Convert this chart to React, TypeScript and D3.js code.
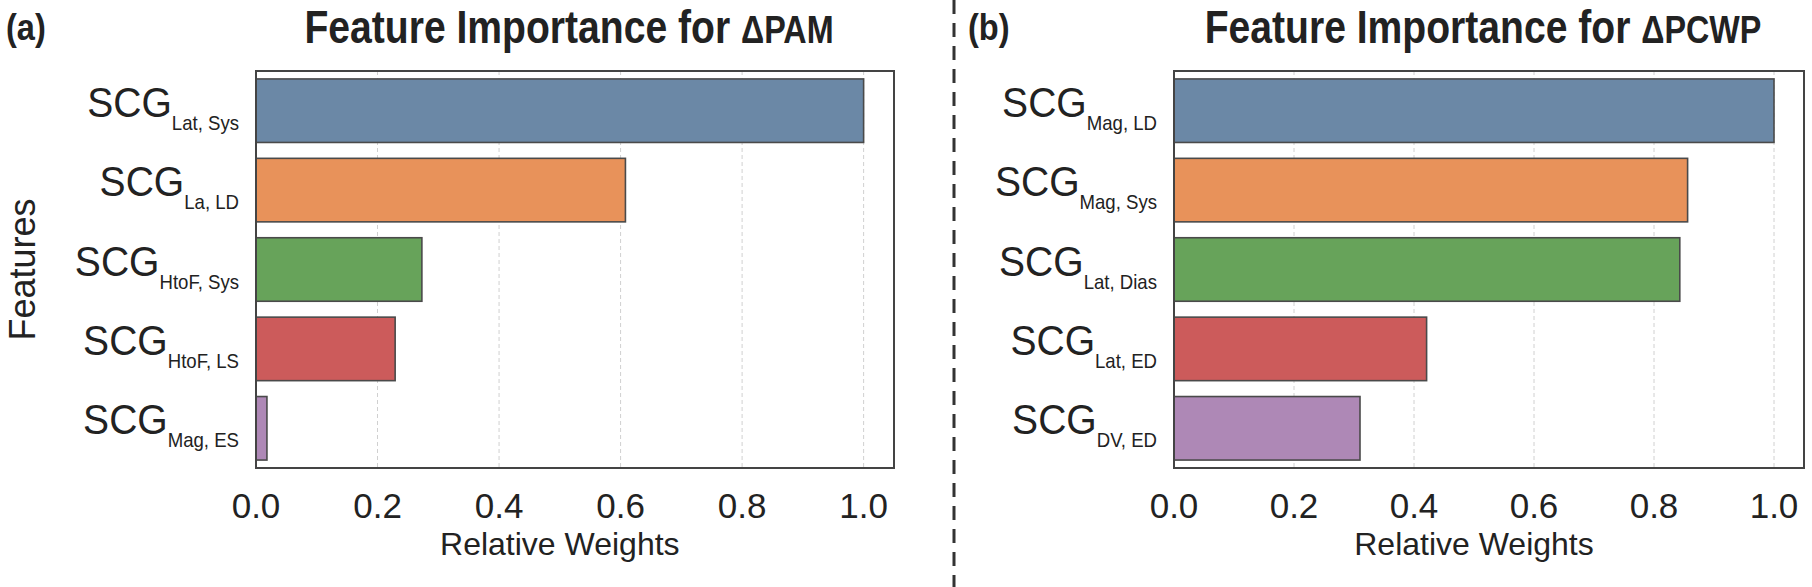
import React from 'react';
import * as d3 from 'd3';

// panel (a): ΔPAM
const pamSubs = ['Lat, Sys', 'La, LD', 'HtoF, Sys', 'HtoF, LS', 'Mag, ES'];
const pamWeights = [1.0, 0.608, 0.273, 0.229, 0.018];

// panel (b): ΔPCWP
const pcwpSubs = ['Mag, LD', 'Mag, Sys', 'Lat, Dias', 'Lat, ED', 'DV, ED'];
const pcwpWeights = [1.0, 0.856, 0.843, 0.421, 0.31];

const xTicks = [0.0, 0.2, 0.4, 0.6, 0.8, 1.0];
const barColors = ['#6b88a6', '#e8925a', '#67a35a', '#cc5b5b', '#ae88b6'];

const W = 1812;
const H = 587;
const FONT = '"Liberation Sans", Arial, Helvetica, sans-serif';

type PanelProps = {
  left: number;
  right: number;
  subs: string[];
  weights: number[];
  tag: string;
  tagX: number;
  title: string;
  showYTitle: boolean;
};

const Panel = ({ left, right, subs, weights, tag, tagX, title, showYTitle }: PanelProps) => {
  const top = 71;
  const bottom = 468;

  const x = d3.scaleLinear().domain([0, 1.05]).range([left, right]);
  const y = d3.scaleBand<number>()
    .domain(d3.range(subs.length))
    .range([top, bottom])
    .paddingInner(0.2)
    .paddingOuter(0.1);

  const midX = (left + right) / 2 - 6;

  return (
    <g>
      <text transform={`translate(${tagX},40) scale(0.88,1)`} fontFamily={FONT} fontWeight="bold"
        fontSize={37} fill="#222">{tag}</text>
      <text transform={`translate(${midX},43) scale(0.85,1)`} textAnchor="middle" fontFamily={FONT}
        fontWeight="bold" fontSize={46} fill="#222">
        Feature Importance for <tspan fontSize={38}>Δ{title}</tspan>
      </text>

      {/* grid */}
      {xTicks.map(t => (
        <line key={t} x1={x(t)} x2={x(t)} y1={top} y2={bottom}
          stroke="#d0d0d0" strokeWidth={1} strokeDasharray="4,3" />
      ))}

      {/* bars */}
      {weights.map((v, i) => (
        <rect key={i} x={x(0)} y={y(i)} width={x(v) - x(0)} height={y.bandwidth()}
          fill={barColors[i]} stroke="#4a4a4a" strokeWidth={1.6} />
      ))}

      <rect x={left} y={top} width={right - left} height={bottom - top}
        fill="none" stroke="#444" strokeWidth={2} />

      {/* y labels */}
      {subs.map((s, i) => {
        const cy = (y(i) as number) + y.bandwidth() / 2;
        return (
          <text key={s} transform={`translate(${left - 17},${cy + 6}) scale(0.93,1)`} textAnchor="end"
            fontFamily={FONT} fill="#222">
            <tspan fontSize={42}>SCG</tspan>
            <tspan fontSize={20} dy={13}>{s}</tspan>
          </text>
        );
      })}

      {/* x ticks */}
      {xTicks.map(t => (
        <text key={t} x={x(t)} y={518} textAnchor="middle" fontFamily={FONT} fontSize={35} fill="#222">
          {d3.format('.1f')(t)}
        </text>
      ))}
      <text x={x(0.5)} y={555} textAnchor="middle" fontFamily={FONT} fontSize={32} fill="#222">
        Relative Weights
      </text>

      {showYTitle && (
        <text transform={`translate(35,${(top + bottom) / 2}) rotate(-90)`} textAnchor="middle"
          fontFamily={FONT} fontSize={36} fill="#222">Features</text>
      )}
    </g>
  );
};

export default function App() {
  return (
    <svg width={W} height={H} style={{ position: 'absolute', left: 0, top: 0, background: '#fff' }}>
      <rect width={W} height={H} fill="#fff" />
      <Panel left={256} right={894} subs={pamSubs} weights={pamWeights}
        tag="(a)" tagX={6} title="PAM" showYTitle={true} />
      <line x1={954} x2={954} y1={0} y2={H} stroke="#333" strokeWidth={3} strokeDasharray="14,9" />
      <Panel left={1174} right={1804} subs={pcwpSubs} weights={pcwpWeights}
        tag="(b)" tagX={968} title="PCWP" showYTitle={false} />
    </svg>
  );
}
